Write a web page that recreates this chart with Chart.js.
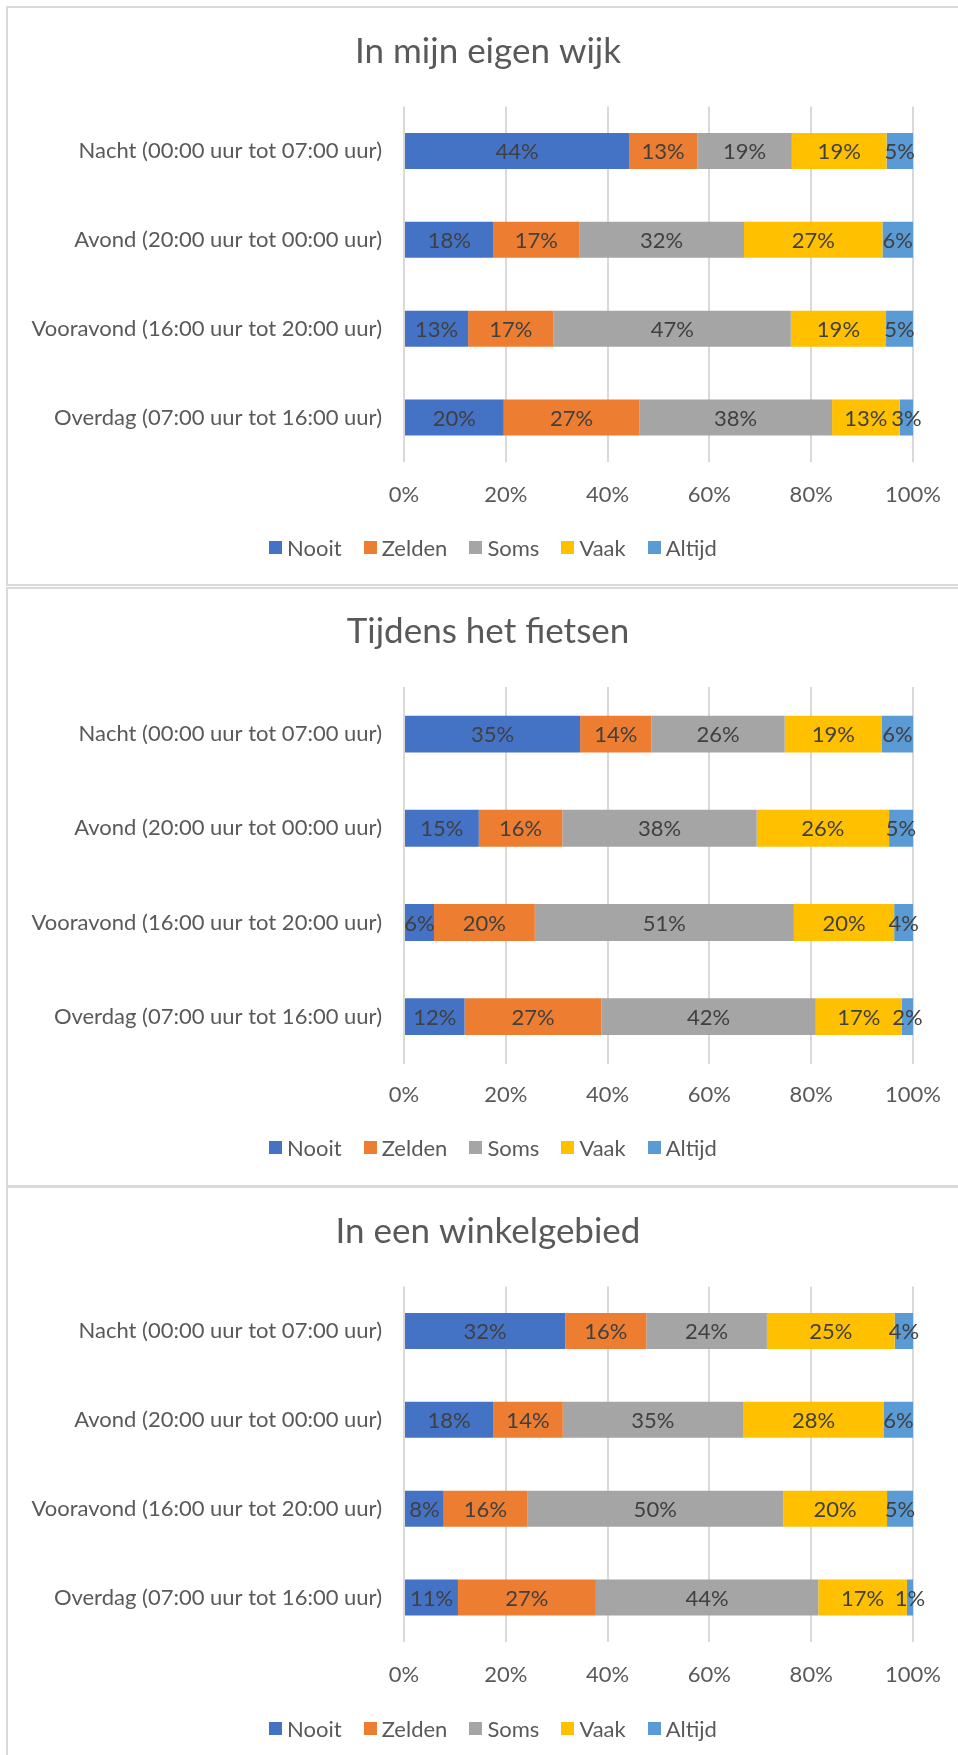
<!DOCTYPE html>
<html><head><meta charset="utf-8">
<script src="https://cdn.jsdelivr.net/npm/chart.js@4.4.0/dist/chart.umd.min.js"></script>
<style>
html,body{margin:0;padding:0;background:#fff;overflow:hidden;width:958px;height:1755px;}
.panel{position:absolute;left:6px;width:990px;border:2px solid #d9d9d9;box-sizing:border-box;background:#fff;}
canvas{position:absolute;left:8px;}
.legend{position:absolute;left:8px;width:970px;height:26px;display:flex;justify-content:center;align-items:center;font-family:Lato,sans-serif;font-size:22px;color:#595959;}
.legend .item{display:flex;align-items:center;margin:0 11px;white-space:nowrap;}
.legend .box{width:13px;height:13px;margin-right:5px;}
</style></head><body>
<div class="panel" style="top:6px;height:580px"></div>
<div class="panel" style="top:587px;height:600px"></div>
<div class="panel" style="top:1186px;height:600px"></div>
<canvas id="c1" width="960" height="576" style="top:8px;width:960px;height:576px"></canvas>
<canvas id="c2" width="960" height="595" style="top:589px;width:960px;height:595px"></canvas>
<canvas id="c3" width="960" height="576" style="top:1188px;width:960px;height:576px"></canvas>
<div class="legend" id="l1" style="top:534px"></div>
<div class="legend" id="l2" style="top:1134px"></div>
<div class="legend" id="l3" style="top:1715px"></div>
<script>
// ---- data ----
const categories = ['Nacht (00:00 uur tot 07:00 uur)', 'Avond (20:00 uur tot 00:00 uur)', 'Vooravond (16:00 uur tot 20:00 uur)', 'Overdag (07:00 uur tot 16:00 uur)'];
const seriesNames = ['Nooit', 'Zelden', 'Soms', 'Vaak', 'Altijd'];
const xTickValues = [0, 20, 40, 60, 80, 100];
const chartTitles = ['In mijn eigen wijk', 'Tijdens het fietsen', 'In een winkelgebied'];

// In mijn eigen wijk
const wijkNooit  = [44.2, 17.6, 12.6, 19.6];
const wijkZelden = [13.4, 16.8, 16.8, 26.6];
const wijkSoms   = [18.6, 32.4, 46.6, 37.9];
const wijkVaak   = [18.6, 27.2, 18.7, 13.3];
const wijkAltijd = [5.2, 6.0, 5.3, 2.6];

// Tijdens het fietsen
const fietsNooit  = [34.6, 14.7, 5.9, 11.9];
const fietsZelden = [14.0, 16.4, 19.8, 26.9];
const fietsSoms   = [26.2, 38.2, 50.9, 42.1];
const fietsVaak   = [19.1, 26.0, 19.7, 16.9];
const fietsAltijd = [6.1, 4.7, 3.7, 2.2];

// In een winkelgebied
const winkelNooit  = [31.7, 17.5, 7.8, 10.6];
const winkelZelden = [15.9, 13.7, 16.4, 27.1];
const winkelSoms   = [23.7, 35.4, 50.3, 43.7];
const winkelVaak   = [25.1, 27.7, 20.4, 17.4];
const winkelAltijd = [3.6, 5.7, 5.1, 1.2];

// ---- styles ----
const seriesColors = ['#4472C4', '#ED7D31', '#A5A5A5', '#FFC000', '#5B9BD5'];
const FONT = 'Lato, sans-serif';
const TXT = '#595959';

const labelPlugin = {
  id: 'segLabels',
  afterDatasetsDraw(chart) {
    const ctx = chart.ctx;
    ctx.save();
    ctx.font = '22px ' + FONT;
    ctx.fillStyle = '#404040';
    ctx.textAlign = 'center';
    ctx.textBaseline = 'middle';
    chart.data.datasets.forEach((ds, di) => {
      const meta = chart.getDatasetMeta(di);
      meta.data.forEach((el, i) => {
        const p = el.getProps(['x', 'base', 'y'], true);
        ctx.fillText(Math.round(ds.data[i]) + '%', (p.x + p.base) / 2, p.y + 1);
      });
    });
    ctx.restore();
  }
};

function makeChart(id, title, series, g) {
  const datasets = series.map((arr, k) => ({
    label: seriesNames[k], data: arr, backgroundColor: seriesColors[k],
    xAxisID: 'x', yAxisID: 'y',
    borderWidth: 0, barPercentage: 1, categoryPercentage: g.cat
  }));
  return new Chart(document.getElementById(id), {
    type: 'bar',
    data: { labels: categories, datasets },
    plugins: [labelPlugin],
    options: {
      indexAxis: 'y', responsive: false, animation: false, devicePixelRatio: 1,
      layout: { padding: { left: 0, right: 0, top: 0, bottom: g.padBottom } },
      plugins: {
        legend: { display: false }, tooltip: { enabled: false },
        title: { display: true, text: title, color: TXT,
          font: { family: FONT, size: 35, weight: 'normal', lineHeight: 1.2 },
          padding: { top: g.tTop, bottom: g.tBottom } }
      },
      scales: {
        x: { stacked: true, min: 0, max: 100,
          afterBuildTicks: s => { s.ticks = xTickValues.map(v => ({ value: v })); },
          afterFit: s => { s.height = 60; },
          grid: { color: '#D9D9D9', lineWidth: 2, drawTicks: false },
          border: { display: false },
          ticks: { color: TXT, font: { family: FONT, size: 22 }, padding: g.tickPad,
            callback: v => v + '%' } },
        y: { stacked: true, position: 'left',
          afterFit: s => { s.width = 396; },
          grid: { display: false, drawTicks: false }, border: { display: false },
          ticks: { color: TXT, font: { family: FONT, size: 22 }, padding: 22 } },
        yRight: { type: 'linear', axis: 'y', position: 'right', display: true,
          afterFit: s => { s.width = 55; },
          grid: { display: false, drawTicks: false }, border: { display: false },
          ticks: { display: false } }
      }
    }
  });
}

function makeLegend(id) {
  const el = document.getElementById(id);
  seriesNames.forEach((n, k) => {
    const it = document.createElement('span'); it.className = 'item';
    const b = document.createElement('span'); b.className = 'box'; b.style.background = seriesColors[k];
    const t = document.createElement('span'); t.textContent = n;
    it.appendChild(b); it.appendChild(t); el.appendChild(it);
  });
}

const g13 = { tTop: 22.5, tBottom: 34, cat: 0.405, padBottom: 62, tickPad: 20 };
const g2 = { tTop: 22, tBottom: 34, cat: 0.392, padBottom: 60.3, tickPad: 17.8 };
makeChart('c1', chartTitles[0], [wijkNooit, wijkZelden, wijkSoms, wijkVaak, wijkAltijd], g13);
makeChart('c2', chartTitles[1], [fietsNooit, fietsZelden, fietsSoms, fietsVaak, fietsAltijd], g2);
makeChart('c3', chartTitles[2], [winkelNooit, winkelZelden, winkelSoms, winkelVaak, winkelAltijd], g13);
makeLegend('l1'); makeLegend('l2'); makeLegend('l3');
</script>
</body></html>
